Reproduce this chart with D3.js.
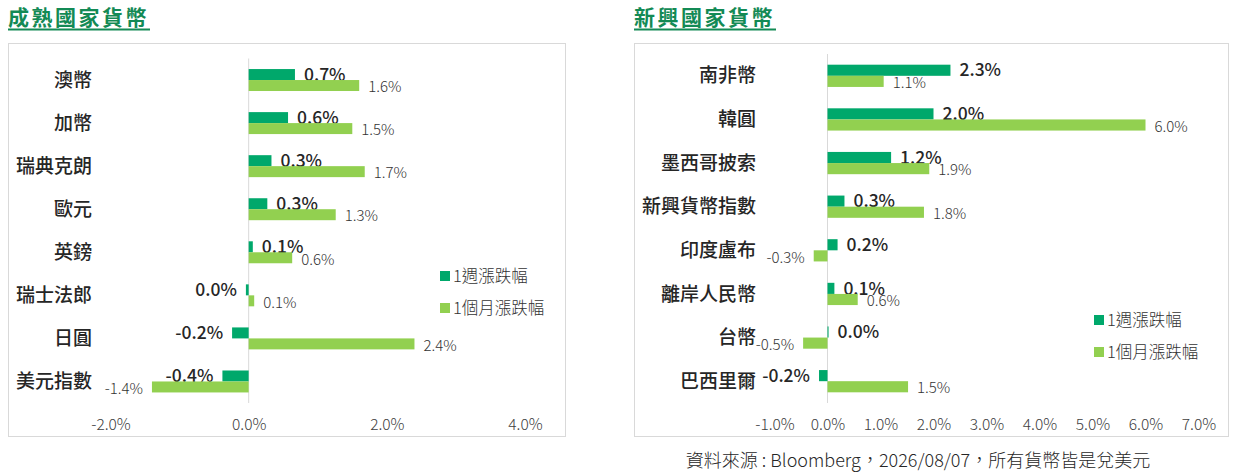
<!DOCTYPE html>
<html>
<head>
    <meta charset="utf-8">
    <title>貨幣漲跌幅</title>
    <script src="https://cdnjs.cloudflare.com/ajax/libs/d3/7.8.5/d3.min.js"></script>
    <style>
        body { margin: 0; background: #fff; }
        text { font-family: "Noto Sans CJK TC", "Noto Sans", sans-serif; }
    </style>
</head>
<body>
    <div id="chart"></div>
    <script>
        // 成熟國家貨幣
        const matureCats = ["澳幣", "加幣", "瑞典克朗", "歐元", "英鎊", "瑞士法郎", "日圓", "美元指數"];
        const matureWeek = [0.67, 0.57, 0.33, 0.27, 0.06, -0.04, -0.24, -0.38];
        const matureMonth = [1.6, 1.5, 1.68, 1.26, 0.63, 0.08, 2.4, -1.4];
        const matureTicks = [-2, 0, 2, 4];

        // 新興國家貨幣
        const emergCats = ["南非幣", "韓圓", "墨西哥披索", "新興貨幣指數", "印度盧布", "離岸人民幣", "台幣", "巴西里爾"];
        const emergWeek = [2.32, 2.0, 1.2, 0.32, 0.19, 0.13, 0.02, -0.16];
        const emergMonth = [1.06, 6.0, 1.92, 1.82, -0.26, 0.57, -0.46, 1.52];
        const emergTicks = [-1, 0, 1, 2, 3, 4, 5, 6, 7];

        const seriesNames = ["1週漲跌幅", "1個月漲跌幅"];
        const colors = ["#00a86b", "#92d050"];
        const titleColor = "#138a55";

        const width = 1241;
        const height = 474;
        const svg = d3.select("#chart")
            .append("svg")
            .attr("width", width)
            .attr("height", height);

        function fmt(v) {
            let s = (Math.round(v * 10) / 10).toFixed(1);
            if (s === "-0.0") s = "0.0";
            return s + "%";
        }

        function drawPanel(p) {
            const g = svg.append("g");

            // title + underline
            g.append("text")
                .attr("x", p.titleX).attr("y", 25)
                .attr("font-size", 21).attr("font-weight", "bold")
                .attr("letter-spacing", 2.5)
                .attr("fill", titleColor)
                .text(p.title);
            g.append("line")
                .attr("x1", p.titleX).attr("x2", p.titleX + 142)
                .attr("y1", 29.5).attr("y2", 29.5)
                .attr("stroke", titleColor).attr("stroke-width", 2);

            // frame
            g.append("rect")
                .attr("x", p.box[0] + 0.5).attr("y", 43.5)
                .attr("width", p.box[1] - p.box[0]).attr("height", 393)
                .attr("fill", "none").attr("stroke", "#d9d9d9");

            const x = d3.scaleLinear().domain(p.domain).range(p.xRange);
            const y = d3.scaleBand().domain(p.cats).range(p.yRange)
                .paddingInner(0.49).paddingOuter(0.245);
            const sub = d3.scaleBand().domain([0, 1]).range([0, y.bandwidth()]);

            // zero line
            g.append("line")
                .attr("x1", x(0)).attr("x2", x(0))
                .attr("y1", p.yRange[0]).attr("y2", p.yRange[1])
                .attr("stroke", "#d9d9d9");

            const series = [p.week, p.month];
            series.forEach((vals, si) => {
                const rows = p.cats.map((c, i) => ({ c, v: vals[i] }));
                g.selectAll(null)
                    .data(rows)
                    .join("rect")
                    .attr("x", d => x(Math.min(0, d.v)))
                    .attr("y", d => y(d.c) + sub(si))
                    .attr("width", d => Math.abs(x(d.v) - x(0)))
                    .attr("height", sub.bandwidth())
                    .attr("fill", colors[si]);

                g.selectAll(null)
                    .data(rows)
                    .join("text")
                    .attr("x", d => d.v >= 0 ? x(d.v) + 9 : x(d.v) - 9)
                    .attr("y", d => y(d.c) + sub(si) + sub.bandwidth() / 2 + (si === 0 ? 0 : 1.5))
                    .attr("dy", "0.35em")
                    .attr("text-anchor", d => d.v >= 0 ? "start" : "end")
                    .attr("font-size", si === 0 ? 17.5 : 15)
                    .attr("font-weight", si === 0 ? 500 : 300)
                    .attr("fill", si === 0 ? "#262626" : "#333")
                    .text(d => fmt(d.v));
            });

            // category labels
            g.selectAll(null)
                .data(p.cats)
                .join("text")
                .attr("x", p.labelX)
                .attr("y", d => y(d) + y.bandwidth() / 2)
                .attr("dy", "0.35em")
                .attr("text-anchor", "end")
                .attr("font-size", 19)
                .attr("font-weight", 500)
                .attr("fill", "#262626")
                .text(d => d);

            // x axis labels
            const axis = d3.axisBottom(x)
                .tickValues(p.ticks)
                .tickSize(0)
                .tickPadding(0)
                .tickFormat(fmt);
            const ag = g.append("g")
                .attr("transform", `translate(0,${425})`)
                .call(axis);
            ag.select(".domain").remove();
            ag.selectAll("text")
                .attr("dy", "0.35em")
                .attr("font-size", 15.5)
                .attr("font-weight", 300)
                .attr("fill", "#404040")
                .attr("font-family", "Noto Sans CJK TC");

            // legend
            seriesNames.forEach((n, i) => {
                g.append("rect")
                    .attr("x", p.legend[0]).attr("y", p.legend[1] + i * 32 - 5)
                    .attr("width", 10).attr("height", 10)
                    .attr("fill", colors[i]);
                g.append("text")
                    .attr("x", p.legend[0] + 13).attr("y", p.legend[1] + i * 32)
                    .attr("dy", "0.35em")
                    .attr("font-size", 16.5)
                    .attr("font-weight", 300)
                    .attr("fill", "#333")
                    .text(n);
            });
        }

        drawPanel({
            title: "成熟國家貨幣", titleX: 8,
            box: [8, 565],
            cats: matureCats, week: matureWeek, month: matureMonth,
            domain: [-2, 4], xRange: [110.5, 525], ticks: matureTicks,
            yRange: [58.5, 403], labelX: 92,
            legend: [440, 276]
        });

        drawPanel({
            title: "新興國家貨幣", titleX: 634,
            box: [634, 1228],
            cats: emergCats, week: emergWeek, month: emergMonth,
            domain: [-1, 7], xRange: [774.5, 1198.5], ticks: emergTicks,
            yRange: [54, 403], labelX: 756,
            legend: [1094, 320]
        });

        svg.append("text")
            .attr("x", 918).attr("y", 461)
            .attr("dy", "0.35em")
            .attr("text-anchor", "middle")
            .attr("font-size", 18)
            .attr("font-weight", 300)
            .attr("fill", "#262626")
            .text("資料來源 : Bloomberg，2026/08/07，所有貨幣皆是兌美元");
    </script>
</body>
</html>
